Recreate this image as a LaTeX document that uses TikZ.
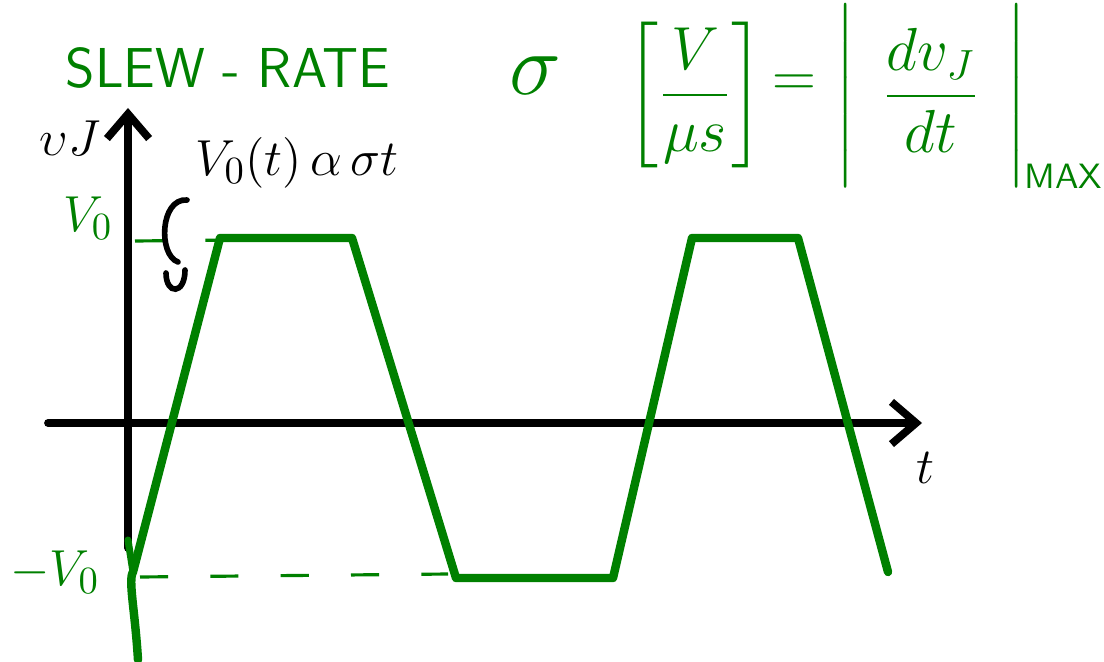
\documentclass[tikz,border=0pt]{standalone}
\usepackage{amsmath}
\usetikzlibrary{arrows.meta}
\definecolor{pen}{RGB}{0,128,0}
\begin{document}
\begin{tikzpicture}[x=0.01cm,y=-0.01cm,
  axis/.style={line width=2.2pt,black,line cap=round},
  wave/.style={line width=2.4pt,pen,line join=round,line cap=round},
  guide/.style={line width=0.9pt,pen,dash pattern=on 8pt off 12pt},
  glab/.style={text=pen,inner sep=0pt,font=\fontsize{15}{18}\selectfont},
  blab/.style={text=black,inner sep=0pt,font=\fontsize{15}{18}\selectfont}]
\useasboundingbox (0,0) rectangle (1104,661);
% axes
\coordinate (yb) at (128,548);
\coordinate (yt) at (128,108);
\coordinate (xl) at (48,423);
\coordinate (xr) at (922,423);
\draw[axis,-{Straight Barb[length=7pt,width=12pt,line width=2.2pt]}] (yb) -- (yt);
\draw[axis,-{Straight Barb[length=7pt,width=12pt,line width=2.2pt]}] (xl) -- (xr);
% guides
\coordinate (g1a) at (135,241);
\coordinate (g1b) at (238,240);
\coordinate (g2a) at (140,577);
\coordinate (g2b) at (448,574);
\draw[guide] (g1a) -- (g1b);
\draw[guide] (g2a) -- (g2b);
% waveform
\coordinate (w0) at (133,572);
\coordinate (w1) at (220,238);
\coordinate (w2) at (352,238);
\coordinate (w3) at (456,578);
\coordinate (w4) at (613,578);
\coordinate (w5) at (692,238);
\coordinate (w6) at (798,238);
\coordinate (w7) at (888,572);
\coordinate (tl) at (138,660);
\draw[wave] (tl) .. controls (135,610) and (128,580) .. (w0) -- (w1) -- (w2) -- (w3) -- (w4) -- (w5) -- (w6) -- (w7);
\draw[wave,line width=2pt] (128,540) -- (w0);
% hook
\coordinate (h0) at (187,200);
\coordinate (h1) at (185,270);
\draw[line width=1.6pt,line cap=round] (h0) .. controls (160,198) and (158,255) .. (178,262);
\draw[line width=1.6pt,line cap=round] (166,273) .. controls (166,295) and (185,295) .. (h1);
% labels
\node[glab,anchor=west,font=\sffamily\fontsize{16}{19}\selectfont] (title) at (65,68) {SLEW - RATE};
\node[glab] (sig) at (535,76) {\fontsize{24}{28}\selectfont$\sigma$};
\node[glab] (unit) at (695,95) {\fontsize{18}{22}\selectfont$\left[\dfrac{V}{\mu s}\right]$};
\node[glab] (eqs) at (794,86) {\fontsize{17}{20}\selectfont$=$};
\node[glab] (der) at (931,96) {\fontsize{18}{22}\selectfont$\left|\rule[-0.85em]{0pt}{2.5em}\;\,\dfrac{dv_J}{dt}\;\,\right|$};
\node[glab,anchor=west] (max) at (1024,176) {\fontsize{10}{12}\selectfont\sffamily MAX};
\node[blab] (vj) at (70,138) {$\upsilon J$};
\node[blab,anchor=west] (eq) at (195,163) {$V_0(t)\,\alpha\,\sigma t$};
\node[glab] (v0) at (88,218) {$V_0$};
\node[glab] (mv0) at (55,572) {$-V_0$};
\node[blab] (t) at (925,468) {$t$};
\end{tikzpicture}
\end{document}
